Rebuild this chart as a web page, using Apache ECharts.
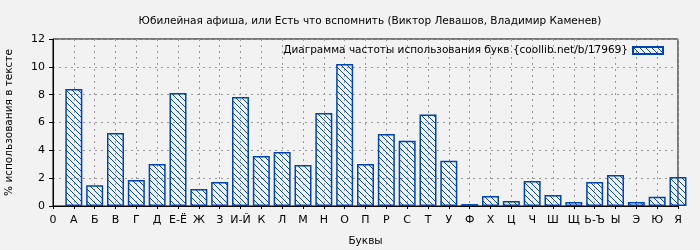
<!DOCTYPE html>
<html><head><meta charset="utf-8">
<script src="https://cdn.jsdelivr.net/npm/echarts@6/dist/echarts.min.js"></script>
<style>html,body{margin:0;padding:0;background:#f2f2f2;}#c{width:700px;height:250px;}</style>
</head><body><div id="c"></div>
<script>
const titleText = 'Юбилейная афиша, или Есть что вспомнить (Виктор Левашов, Владимир Каменев)';
const seriesName = 'Диаграмма частоты использования букв {coollib.net/b/17969}';
const letters = ['А','Б','В','Г','Д','Е-Ё','Ж','З','И-Й','К','Л','М','Н','О','П','Р','С','Т','У','Ф','Х','Ц','Ч','Ш','Щ','Ь-Ъ','Ы','Э','Ю','Я'];
const values = [8.4,1.5,5.25,1.87,3.02,8.12,1.22,1.72,7.83,3.59,3.88,2.95,6.68,10.2,3.02,5.17,4.69,6.58,3.25,0.14,0.72,0.36,1.8,0.79,0.29,1.72,2.23,0.29,0.67,2.08];
const yTicks = [0,2,4,6,8,10,12];

const categories = ['0'].concat(letters);
const data = [null].concat(values);

const pc = document.createElement('canvas');
pc.width = 6; pc.height = 6;
const g = pc.getContext('2d');
g.fillStyle = '#0a46b0';
for (let i = 0; i < 6; i++) g.fillRect(i, i, 1, 1);

const chart = echarts.init(document.getElementById('c'), null, {renderer:'canvas'});
const font = 'DejaVu Sans';
chart.setOption({
  backgroundColor: '#f2f2f2',
  animation: false,
  title: {text: titleText, left: 365, top: 11, textAlign: 'center',
    textStyle: {fontFamily: font, fontSize: 10.5, fontWeight: 'normal', color: '#000'}},
  legend: {right: 31, top: 40, align: 'right', icon: 'rect', itemWidth: 30, itemHeight: 7, itemGap: 10,
    textStyle: {fontFamily: font, fontSize: 10.5, color: '#000'}},
  grid: {left: 53, right: 22, top: 39, bottom: 44, outerBoundsMode: 'none', containLabel: false,
    show: true, borderColor: '#000', borderWidth: 1, backgroundColor: 'transparent'},
  xAxis: {type: 'category', data: categories, boundaryGap: false,
    name: 'Буквы', nameLocation: 'middle', nameGap: 30,
    nameTextStyle: {fontFamily: font, fontSize: 10.5, color: '#000'},
    axisLine: {lineStyle: {color: '#000', width: 1}},
    axisTick: {show: true, length: 3, lineStyle: {color: '#000'}},
    axisLabel: {interval: 0, fontFamily: font, fontSize: 11, color: '#000', margin: 9},
    splitLine: {show: true, interval: 0, lineStyle: {color: '#999', type: [2,4], width: 1}}},
  yAxis: {type: 'value', min: yTicks[0], max: yTicks[yTicks.length-1], interval: 2,
    name: '% использования в тексте', nameLocation: 'middle', nameGap: 38,
    nameTextStyle: {fontFamily: font, fontSize: 10.5, color: '#000'},
    axisLine: {show: true, lineStyle: {color: '#000', width: 1}},
    axisTick: {show: true, length: 4, lineStyle: {color: '#000'}},
    axisLabel: {fontFamily: font, fontSize: 11, color: '#000', margin: 8},
    splitLine: {show: true, lineStyle: {color: '#999', type: [2,4], width: 1}}},
  series: [{name: seriesName, type: 'bar', data: data, barWidth: 17, clip: true,
    itemStyle: {color: {image: pc, repeat: 'repeat'}, borderColor: '#0044b0', borderWidth: 1.5}}]
});
</script></body></html>
